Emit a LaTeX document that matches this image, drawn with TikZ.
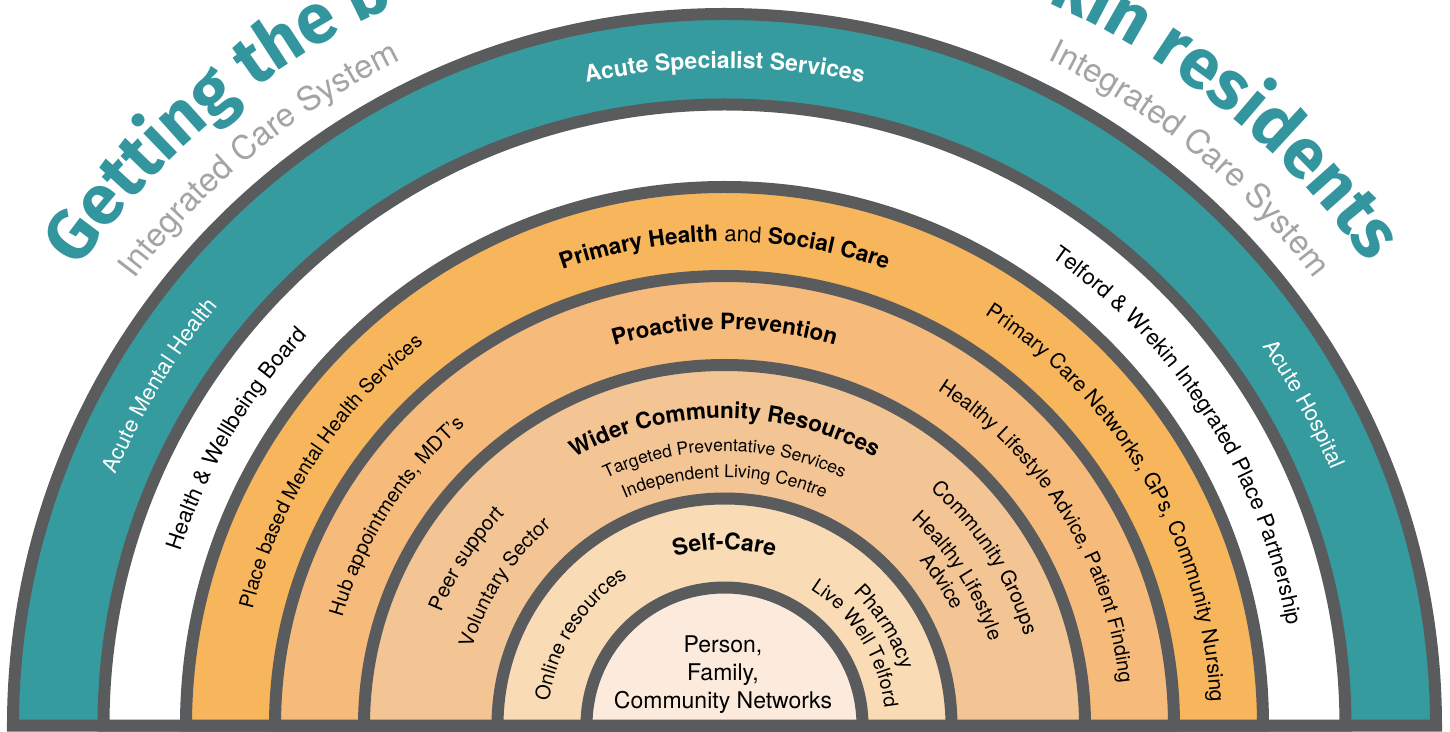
\documentclass[tikz,border=0pt]{standalone}
\usepackage{fontspec}
\setmainfont{TeX Gyre Heros}
\newfontfamily\titlefont{Fira Sans}
\usetikzlibrary{decorations.text}
\definecolor{ringgray}{HTML}{5A5B5D}
\definecolor{bandteal}{HTML}{359B9F}
\definecolor{titleteal}{HTML}{33959E}
\definecolor{subgray}{HTML}{A4A4A4}
\definecolor{primorange}{HTML}{F7B55C}
\definecolor{proorange}{HTML}{F6BB7B}
\definecolor{widerorange}{HTML}{F4C594}
\definecolor{selfcare}{HTML}{F9DBB5}
\definecolor{innercol}{HTML}{FCEBDC}
\newcommand{\ringlabel}[5]{%
  \pgfmathsetmacro{\rlA}{#1+#3}%
  \pgfmathsetmacro{\rlB}{#1-#3}%
  \path[decorate,decoration={text along path,text align=center,text={|#4|#5}}]
    (\rlA:#2) arc[start angle=\rlA,end angle=\rlB,radius=#2];}
\newcommand{\rf}{\fontsize{22}{26}\selectfont}
\newcommand{\ro}{\fontsize{20.5}{24}\selectfont}
\newcommand{\ri}{\fontsize{20}{24}\selectfont}
\newcommand{\rb}{\fontsize{22.5}{26}\selectfont\bfseries}
\newcommand{\sm}{\fontsize{17.5}{21}\selectfont}
\begin{document}
\begin{tikzpicture}[x=1pt,y=1pt,
  ring/.style={draw=ringgray,line width=12pt,line join=miter,fill=#1},
  centertext/.style={anchor=base,font=\fontsize{23}{27}\selectfont,inner sep=0pt}]
\useasboundingbox (-724.5,-5.5) rectangle (725.5,725.5);
\clip (-724.5,-5.5) rectangle (725.5,725.5);
% rings
\draw[ring=bandteal] (-711.5,0) arc[start angle=180,end angle=0,radius=711.5] -- cycle;
\draw[ring=white] (-621,0) arc[start angle=180,end angle=0,radius=621] -- cycle;
\draw[ring=primorange] (-538.5,0) arc[start angle=180,end angle=0,radius=538.5] -- cycle;
\draw[ring=proorange] (-449.5,0) arc[start angle=180,end angle=0,radius=449.5] -- cycle;
\draw[ring=widerorange] (-360.5,0) arc[start angle=180,end angle=0,radius=360.5] -- cycle;
\draw[ring=selfcare] (-227,0) arc[start angle=180,end angle=0,radius=227] -- cycle;
\draw[ring=innercol] (-138,0) arc[start angle=180,end angle=0,radius=138] -- cycle;
% title and subtitles
\ringlabel{90.25}{792}{85}{\titlefont\bfseries\fontsize{70}{78}\selectfont\color{titleteal}}{Getting the best for Telford {\&} Wrekin residents}
\ringlabel{129.4}{740}{30}{\fontsize{33}{38}\selectfont\color{subgray}}{Integrated Care System}
\ringlabel{50.6}{740}{30}{\fontsize{33}{38}\selectfont\color{subgray}}{Integrated Care System}
% teal band
\ringlabel{90}{657.5}{30}{\fontsize{23}{26}\selectfont\bfseries\color{white}}{Acute Specialist Services}
\ringlabel{149}{658}{30}{\rf\color{white}}{Acute Mental Health}
\ringlabel{29}{658}{28}{\rf\color{white}}{Acute Hospital}
% white band
\ringlabel{149.6}{571}{30}{\rf}{Health {\&} Wellbeing Board}
\ringlabel{32.6}{571}{40}{\rf}{Telford {\&} Wrekin Integrated Place Partnership}
% primary
\ringlabel{90}{484}{30}{\rb}{Primary Health |\rf|and |\rb|Social Care}
\ringlabel{147.2}{486}{35}{\fontsize{20}{24}\selectfont}{Place based Mental Health Services}
\ringlabel{30.2}{486}{45}{\fontsize{21}{24}\selectfont}{Primary Care Networks, GPs, Community Nursing}
% proactive
\ringlabel{90}{396}{30}{\rb}{Proactive Prevention}
\ringlabel{147.5}{397}{35}{\ri}{Hub appointments, MDT’s}
\ringlabel{31.8}{397}{45}{\ri}{Healthy Lifestyle Advice, Patient Finding}
% wider community
\ringlabel{90}{307}{40}{\rb}{Wider Community Resources}
\ringlabel{90}{274}{40}{\sm}{Targeted Preventative Services}
\ringlabel{90}{248}{40}{\sm}{Independent Living Centre}
\ringlabel{147.2}{305}{35}{\ro}{Peer support}
\ringlabel{147}{264}{35}{\ri}{Voluntary Sector}
\ringlabel{32.8}{313}{35}{\ro}{Community Groups}
\ringlabel{32.7}{278}{35}{\ri}{Healthy Lifestyle}
\ringlabel{33.5}{255}{35}{\ri}{Advice}
% self-care
\ringlabel{90}{176}{40}{\fontsize{23}{26}\selectfont\bfseries}{Self-Care}
\ringlabel{147.7}{177}{45}{\ri}{Online resources}
\ringlabel{31.7}{185}{45}{\ro}{Pharmacy}
\ringlabel{32}{161}{45}{\fontsize{19.5}{23}\selectfont}{Live Well Telford}
% centre
\node[centertext] (person) at (-1.5,73) {Person,};
\node[centertext] (family) at (-1.5,45.5) {Family,};
\node[centertext] (networks) at (-1.5,17.5) {Community Networks};
\end{tikzpicture}
\end{document}
